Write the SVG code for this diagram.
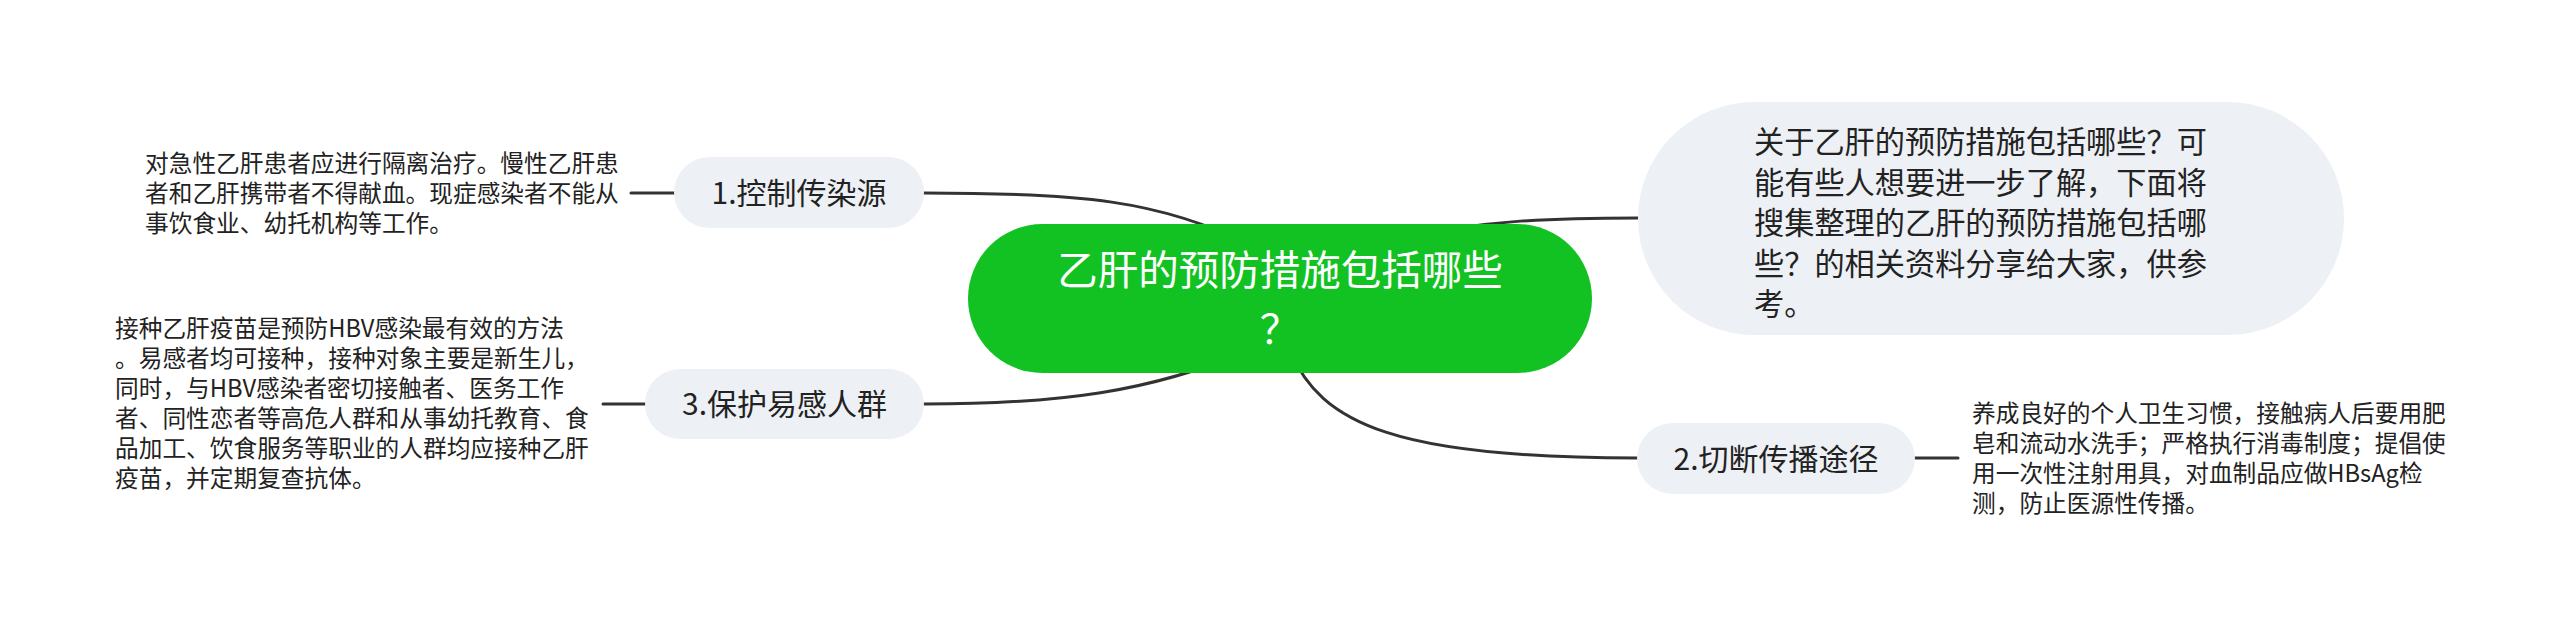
<svg xmlns="http://www.w3.org/2000/svg" width="2560" height="634" viewBox="0 0 2560 634">
<style>
.bg{fill:#ffffff}
.pill{fill:#edf0f4}
.root{fill:#12c222}
.conn{fill:none;stroke:#333333;stroke-width:3;stroke-linecap:round}
text{font-family:"Noto Sans CJK SC","Noto Sans",sans-serif}
.rt{font-size:40.5px;fill:#ffffff;text-anchor:middle}
.pt{font-size:30px;fill:#222222;text-anchor:middle}
.dt{font-size:30.2px;fill:#222222}
.lt{font-size:23.7px;fill:#222222}
</style>
<rect class="bg" x="0" y="0" width="2560" height="634"/>
<g id="connectors">
<path class="conn" d="M924,193 C1080,193 1160,200 1250,245"/>
<path class="conn" d="M924,404 C1060,404 1150,392 1250,350"/>
<path class="conn" d="M1290,350 C1320,425 1400,458 1637,458"/>
<path class="conn" d="M1420,235 C1480,222 1540,218 1638,218"/>
<path class="conn" d="M631,193 L674,193"/>
<path class="conn" d="M603,404 L645,404"/>
<path class="conn" d="M1915,458 L1958,458"/>
</g>
<g id="root">
<rect class="root" x="968" y="224" width="624" height="149" rx="74.5"/>
<text class="rt"><tspan x="1280" y="285">乙肝的预防措施包括哪些</tspan><tspan x="1280" y="344">？</tspan></text>
</g>
<g id="desc">
<rect class="pill" x="1638" y="102" width="706" height="233" rx="116.5"/>
<text class="dt"><tspan x="1754" y="153">关于乙肝的预防措施包括哪些？可</tspan><tspan x="1754" y="194">能有些人想要进一步了解，下面将</tspan><tspan x="1754" y="234">搜集整理的乙肝的预防措施包括哪</tspan><tspan x="1754" y="275">些？的相关资料分享给大家，供参</tspan><tspan x="1754" y="315">考。</tspan></text>
</g>
<g id="n1">
<rect class="pill" x="674" y="157" width="250" height="71" rx="35.5"/>
<text class="pt" x="799" y="204">1.控制传染源</text>
</g>
<g id="n1leaf">
<text class="lt"><tspan x="145" y="172">对急性乙肝患者应进行隔离治疗。慢性乙肝患</tspan><tspan x="145" y="202">者和乙肝携带者不得献血。现症感染者不能从</tspan><tspan x="145" y="232">事饮食业、幼托机构等工作。</tspan></text>
</g>
<g id="n3">
<rect class="pill" x="645" y="369" width="279" height="70" rx="35"/>
<text class="pt" x="784.5" y="415">3.保护易感人群</text>
</g>
<g id="n3leaf">
<text class="lt"><tspan x="115" y="337">接种乙肝疫苗是预防HBV感染最有效的方法</tspan><tspan x="115" y="367">。易感者均可接种，接种对象主要是新生儿，</tspan><tspan x="115" y="397">同时，与HBV感染者密切接触者、医务工作</tspan><tspan x="115" y="427">者、同性恋者等高危人群和从事幼托教育、食</tspan><tspan x="115" y="457">品加工、饮食服务等职业的人群均应接种乙肝</tspan><tspan x="115" y="487">疫苗，并定期复查抗体。</tspan></text>
</g>
<g id="n2">
<rect class="pill" x="1637" y="423" width="278" height="71" rx="35.5"/>
<text class="pt" x="1776" y="470">2.切断传播途径</text>
</g>
<g id="n2leaf">
<text class="lt"><tspan x="1972" y="422">养成良好的个人卫生习惯，接触病人后要用肥</tspan><tspan x="1972" y="452">皂和流动水洗手；严格执行消毒制度；提倡使</tspan><tspan x="1972" y="482">用一次性注射用具，对血制品应做HBsAg检</tspan><tspan x="1972" y="512">测，防止医源性传播。</tspan></text>
</g>
</svg>
